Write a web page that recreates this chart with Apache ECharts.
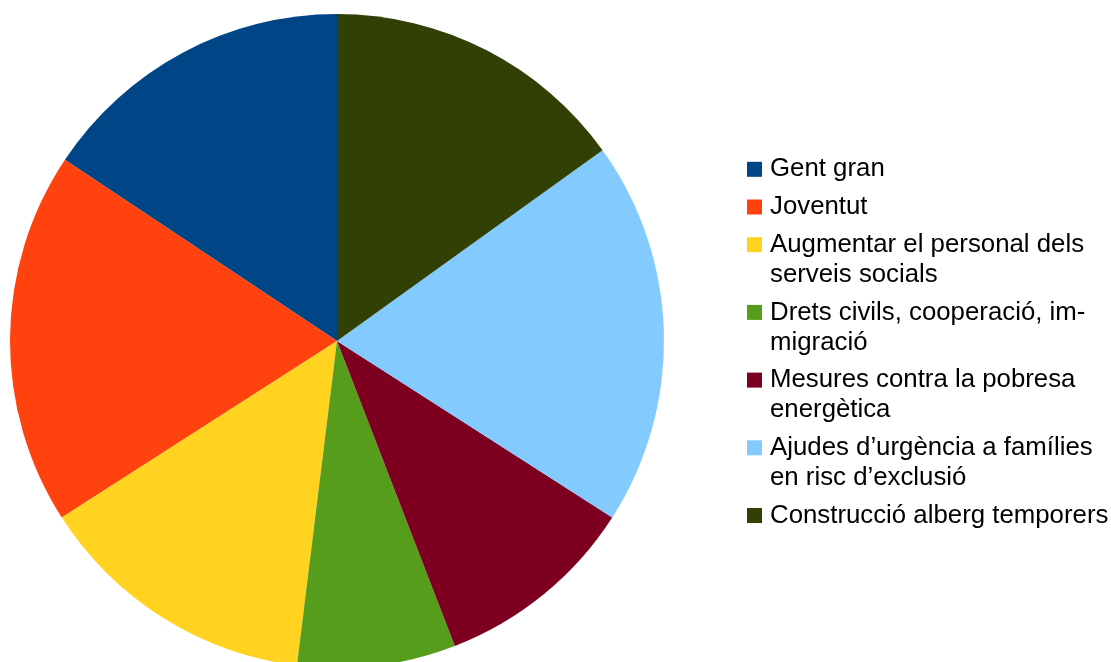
<!DOCTYPE html>
<html>
<head>
<meta charset="utf-8">
<script src="https://cdn.jsdelivr.net/npm/echarts@6/dist/echarts.min.js"></script>
<style>
html,body{margin:0;padding:0;background:#fff;}
#main{width:1111px;height:662px;}
</style>
</head>
<body>
<div id="main"></div>
<script>
const categories = [
  'Gent gran',
  'Joventut',
  'Augmentar el personal dels serveis socials',
  'Drets civils, cooperació, immigració',
  'Mesures contra la pobresa energètica',
  'Ajudes d’urgència a famílies en risc d’exclusió',
  'Construcció alberg temporers'
];
const legendLabels = [
  'Gent gran',
  'Joventut',
  'Augmentar el personal dels\nserveis socials',
  'Drets civils, cooperació, im-\nmigració',
  'Mesures contra la pobresa\nenergètica',
  'Ajudes d’urgència a famílies\nen risc d’exclusió',
  'Construcció alberg temporers'
];
const values = [28, 33, 25, 14, 18, 34, 27];
const colors = ['#004586', '#ff420e', '#ffd320', '#579d1c', '#7e0021', '#83caff', '#314004'];

const chart = echarts.init(document.getElementById('main'), null, {renderer: 'canvas'});

const LINE_H = 30;
const GAP = 7.7;
const FIRST_CENTER = 169.3;
const legends = [];
let c = FIRST_CENTER;
categories.forEach(function (name, i) {
  const lines = legendLabels[i].split('\n').length;
  // extra empty lines above keep the first text line centred on the marker
  const shown = '\n'.repeat(lines - 1) + legendLabels[i];
  const halfBox = (2 * lines - 1) * LINE_H / 2;
  legends.push({
    orient: 'vertical',
    left: 747,
    top: c - halfBox,
    padding: 0,
    itemWidth: 15,
    itemHeight: 15,
    icon: 'rect',
    selectedMode: false,
    data: [name],
    formatter: function () { return shown; },
    textStyle: {
      fontFamily: 'Liberation Sans',
      fontSize: 25.8,
      color: '#000',
      lineHeight: LINE_H,
      padding: [0, 0, 0, 3]
    }
  });
  c += lines * LINE_H + GAP;
});

chart.setOption({
  animation: false,
  color: colors,
  legend: legends,
  series: [{
    type: 'pie',
    center: [337, 341],
    radius: [0, 327],
    startAngle: 90,
    clockwise: false,
    label: {show: false},
    labelLine: {show: false},
    emphasis: {disabled: true},
    itemStyle: {borderWidth: 0},
    data: categories.map(function (n, i) { return {name: n, value: values[i]}; })
  }]
});
</script>
</body>
</html>
